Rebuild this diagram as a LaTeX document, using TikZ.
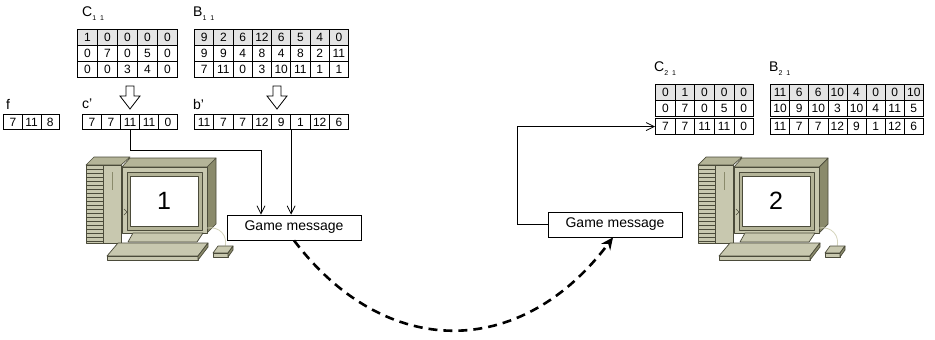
\documentclass[tikz,border=0pt]{standalone}
\usepackage{fontspec}
\setmainfont{Liberation Sans}
\usetikzlibrary{matrix}
\usetikzlibrary{arrows.meta}
\definecolor{cellgray}{HTML}{E4E4E4}
\definecolor{pcface}{HTML}{C8C8AF}
\definecolor{pctop}{HTML}{B4B498}
\definecolor{pcside}{HTML}{8A8A6B}
\definecolor{pcline}{HTML}{4B4B3A}
\definecolor{pccord}{HTML}{D4D4BC}
\newcommand\idx[1]{\raisebox{-4pt}{\fontsize{7}{7}\selectfont #1}}

\begin{document}
\begin{tikzpicture}[x=1pt, y=-1pt,
cell/.style = {draw, line width=0.7pt, inner sep=0pt, minimum height=16pt,
  font=\fontsize{12}{12}\selectfont},
mat/.style = {matrix of nodes, anchor=north west, inner sep=0pt,
  column sep=-0.7pt, row sep=-0.7pt, nodes={cell, minimum width=#1}},
vec/.style = {mat=#1, nodes={minimum height=15pt}},
head/.style = {row 1/.style={nodes={fill=cellgray}}},
lbl/.style = {anchor=west, inner sep=0pt, font=\fontsize{14}{14}\selectfont},
msg/.style = {draw, line width=0.8pt, minimum width=134pt, minimum height=25pt,
  inner sep=0pt, font=\fontsize{14}{14}\selectfont},
link/.style = {draw, line width=0.8pt, -{Straight Barb[length=8pt,width=8pt]}},
hop/.style = {draw, line width=2.6pt, dash pattern=on 9pt off 6pt,
  -{Stealth[length=12pt,width=11pt,inset=4pt]}},
hollow/.style = {draw, line width=0.8pt, fill=white},
pcpart/.style = {draw=pcline, line width=0.7pt, line join=round},
pc/.pic = {
  \draw[pcpart, fill=pctop] (0,8) -- (35,8) -- (44,0) -- (8,0) -- cycle;
  \draw[pcpart, fill=pcface] (0,8) rectangle (17,86);
  \draw[pcpart, fill=pcface] (17,8) rectangle (35,86);
  \foreach \k in {0,...,18}
    \draw[pcline, line width=0.8pt] (0,12+4*\k) -- (17,12+4*\k);
  \draw[pcside, line width=1pt] (26,15) -- (26,33);
  \draw[pcpart, fill=pcside] (121,10) -- (130,1) -- (130,67) -- (121,76) -- cycle;
  \draw[pcpart, fill=pctop] (36,10) -- (121,10) -- (130,1) -- (44,1) -- cycle;
  \draw[pcpart, fill=pcface] (36,10) rectangle (121,76);
  \draw[pcpart, fill=pctop] (41,15) rectangle (116,73);
  \draw[pcpart, fill=white] (44,19) rectangle (112,69);
  \draw[pcline, line width=0.6pt] (38,52) -- (41,55) -- (38,58);
  \draw[pcpart, fill=pcface] (47,76) -- (117,76) -- (111,85) -- (42,85) -- cycle;
  \draw[pccord, line width=0.8pt] (121,71) .. controls (134,69) and (142,79) .. (139,90);
  \draw[pcpart, fill=pcface] (32,86) -- (122,86) -- (112,99) -- (21,99) -- cycle;
  \draw[pcpart, fill=pcface] (21,99) rectangle (112,103);
  \draw[pcpart, fill=pcside] (112,99) -- (122,86) -- (122,90) -- (112,103) -- cycle;
  \draw[pcpart, fill=pcface] (132,89) -- (147,89) -- (142,96) -- (127,96) -- cycle;
  \draw[pcpart, fill=pcface] (127,96) rectangle (142,100);
  \draw[pcpart, fill=pcside] (142,96) -- (147,89) -- (147,93) -- (142,100) -- cycle;
  \node (-num) at (78,44) {\fontsize{25}{25}\selectfont #1};
}
]
\useasboundingbox (0,0) rectangle (935,340);

\node (lC11) [lbl] at (82,14) {C\idx{1\hspace{4pt}1}};
\node (lB11) [lbl] at (193,14) {B\idx{1\hspace{4pt}1}};
\matrix (C11) [mat=20pt, head] at (77,29) {
  1 & 0 & 0 & 0 & 0 \\
  0 & 7 & 0 & 5 & 0 \\
  0 & 0 & 3 & 4 & 0 \\
};
\matrix (B11) [mat=19.25pt, head] at (194,29) {
  9 & 2 & 6 & 12 & 6 & 5 & 4 & 0 \\
  9 & 9 & 4 & 8 & 4 & 8 & 2 & 11 \\
  7 & 11 & 0 & 3 & 10 & 11 & 1 & 1 \\
};
\foreach \x in {130,277}
  \draw[hollow] (\x-4,86) -- (\x+4,86) -- (\x+4,96) -- (\x+10,96) -- (\x,109)
    -- (\x-10,96) -- (\x-4,96) -- cycle;

\node (lf) [lbl] at (6,104) {f};
\node (lcp) [lbl] at (82,104) {c'};
\node (lbp) [lbl] at (193,104) {b'};
\matrix (f) [vec=18.7pt] at (3,114) {
  7 & 11 & 8 \\
};
\matrix (cp) [vec=19pt] at (82,114) {
  7 & 7 & 11 & 11 & 0 \\
};
\matrix (bp) [vec=19.25pt] at (194,114) {
  11 & 7 & 7 & 12 & 9 & 1 & 12 & 6 \\
};

\node (lC21) [lbl] at (654,69) {C\idx{2\hspace{4pt}1}};
\node (lB21) [lbl] at (769,69) {B\idx{2\hspace{4pt}1}};
\matrix (C21) [mat=19.6pt, head] at (655,84) {
  0 & 1 & 0 & 0 & 0 \\
  0 & 7 & 0 & 5 & 0 \\
};
\matrix (C21r) [mat=19.6pt] at (655,118) {
  7 & 7 & 11 & 11 & 0 \\
};
\matrix (B21) [mat=19.1pt, head] at (770,84) {
  11 & 6 & 6 & 10 & 4 & 0 & 0 & 10 \\
  10 & 9 & 10 & 3 & 10 & 4 & 11 & 5 \\
};
\matrix (B21r) [mat=19.1pt] at (770,118) {
  11 & 7 & 7 & 12 & 9 & 1 & 12 & 6 \\
};

\pic (pc1) at (86,157) {pc=1};
\pic (pc2) at (698,157) {pc=2};

\node (gm1) [msg] at (294,227.5) {Game message};
\node (gm2) [msg] at (615,224.5) {Game message};

\draw[link] (cp-1-3.south) -- ++(0,20) -| ([xshift=-33pt]gm1.north);
\draw[link] (bp-1-5.south east) -- (bp-1-5.south east |- gm1.north);
\draw[link] (gm2.west) -- ++(-30,0) |- (C21r.west);
\draw[hop] (gm1.south) .. controls +(91,120) and +(-92,123) .. ([xshift=-2pt]gm2.south);

\end{tikzpicture}
\end{document}
